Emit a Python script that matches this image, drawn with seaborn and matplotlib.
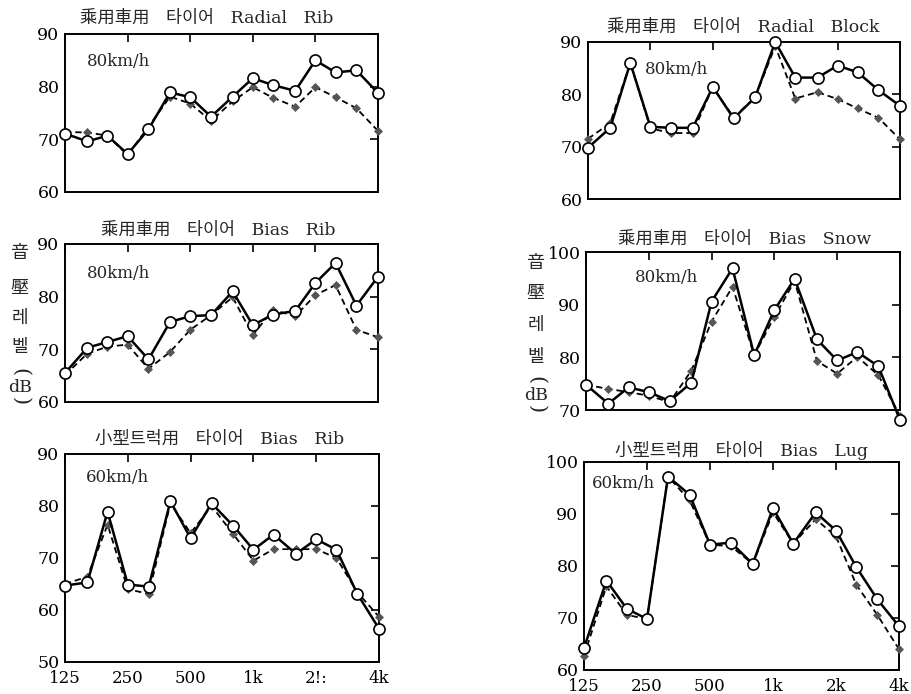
import numpy as np
import pandas as pd
import matplotlib
matplotlib.use("Agg")
import matplotlib.pyplot as plt
import seaborn as sns

# ---------------- data ----------------
freqs = [125, 160, 200, 250, 315, 400, 500, 630, 800, 1000, 1250, 1600, 2000, 2500, 3150, 4000]
octave_ticks = [125, 250, 500, 1000, 2000, 4000]
xtick_labels_left = ["125", "250", "500", "1k", "2!:", "4k"]
xtick_labels_right = ["125", "250", "500", "1k", "2k", "4k"]

titles = ["乘用車用   타이어   Radial   Rib",
          "乘用車用   타이어   Radial   Block",
          "乘用車用   타이어   Bias   Rib",
          "乘用車用   타이어   Bias   Snow",
          "小型트럭用   타이어   Bias   Rib",
          "小型트럭用   타이어   Bias   Lug"]
speeds = ["80km/h", "80km/h", "80km/h", "80km/h", "60km/h", "60km/h"]
ylims = [(60, 90), (60, 90), (60, 90), (70, 100), (50, 90), (60, 100)]

radial_rib_solid = [71.1, 69.6, 70.7, 67.2, 71.9, 78.9, 78.0, 74.3, 78.1, 81.6, 80.3, 79.2, 85.0, 82.7, 83.1, 78.8]
radial_rib_dashed = [71.4, 71.3, 70.7, 67.0, 72.4, 78.1, 76.8, 73.5, 77.2, 79.9, 77.9, 76.2, 79.9, 78.0, 75.9, 71.6]

radial_block_solid = [69.8, 73.6, 86.0, 73.8, 73.6, 73.6, 81.4, 75.4, 79.4, 90.0, 83.2, 83.2, 85.5, 84.2, 80.8, 77.8]
radial_block_dashed = [71.5, 74.5, 86.0, 73.5, 72.6, 72.6, 81.4, 75.6, 79.4, 89.2, 79.2, 80.4, 79.1, 77.3, 75.5, 71.4]

bias_rib_solid = [65.5, 70.3, 71.4, 72.5, 68.1, 75.2, 76.3, 76.5, 81.0, 74.6, 76.6, 77.3, 82.6, 86.4, 78.3, 83.8]
bias_rib_dashed = [65.1, 69.2, 70.5, 70.9, 66.3, 69.5, 73.7, 76.5, 79.9, 72.7, 77.5, 76.3, 80.3, 82.2, 73.7, 72.3]

bias_snow_solid = [74.8, 71.2, 74.3, 73.4, 71.7, 75.2, 90.6, 96.9, 80.4, 89.0, 94.9, 83.4, 79.4, 81.0, 78.3, 68.1]
bias_snow_dashed = [74.8, 74.0, 73.4, 72.7, 71.5, 77.5, 86.8, 93.4, 80.4, 87.7, 94.5, 79.3, 76.9, 80.1, 76.6, 68.9]

truck_rib_solid = [64.7, 65.3, 78.9, 64.9, 64.5, 80.9, 73.8, 80.5, 76.2, 71.6, 74.5, 70.8, 73.6, 71.6, 63.1, 56.4]
truck_rib_dashed = [65.0, 66.4, 76.4, 64.0, 63.1, 80.5, 74.8, 80.0, 74.6, 69.5, 71.7, 71.7, 71.7, 70.0, 63.4, 58.7]

truck_lug_solid = [64.2, 77.2, 71.8, 69.8, 97.2, 93.7, 84.1, 84.5, 80.4, 91.1, 84.3, 90.3, 86.8, 79.8, 73.6, 68.4]
truck_lug_dashed = [62.7, 76.1, 70.6, 69.8, 97.2, 92.6, 84.1, 83.8, 80.4, 90.3, 84.3, 89.0, 85.7, 76.4, 70.6, 64.0]

solid_series = [radial_rib_solid, radial_block_solid, bias_rib_solid,
                bias_snow_solid, truck_rib_solid, truck_lug_solid]
dashed_series = [radial_rib_dashed, radial_block_dashed, bias_rib_dashed,
                 bias_snow_dashed, truck_rib_dashed, truck_lug_dashed]

ylabel_chars = ["音", "壓", "레", "벨"]
ylabel_unit = "dB"

# ---------------- style ----------------
sns.set_style("white")
plt.rcParams["font.family"] = ["DejaVu Serif", "Noto Sans CJK KR"]
plt.rcParams["axes.linewidth"] = 1.4

W, H = 912, 694
fig = plt.figure(figsize=(W / 100, H / 100), dpi=100)

# axes boxes in pixels: left, top, right, bottom
boxes = [(65, 34, 378, 192), (588, 42, 900, 199),
         (65, 244, 378, 402), (586, 252, 900, 410),
         (65, 454, 379, 662), (584, 462, 899, 670)]
title_pos = [(207, 18), (743, 27), (218, 230), (745, 239), (220, 439), (742, 451)]
speed_pos = [(87, 62), (645, 70), (87, 273), (635, 278), (86, 477), (592, 483)]

serif_cjk = ["DejaVu Serif", "Noto Sans CJK KR"]

for i in range(6):
    l, t, r, b = boxes[i]
    ax = fig.add_axes([l / W, 1 - b / H, (r - l) / W, (b - t) / H])
    df = pd.DataFrame({"freq": freqs, "solid": solid_series[i], "dashed": dashed_series[i]})
    sns.lineplot(data=df, x="freq", y="dashed", ax=ax, color="black", linewidth=1.3,
                 linestyle=(0, (3.5, 2.2)), marker="D", markersize=3.8,
                 markerfacecolor="#555555", markeredgecolor="#555555", markeredgewidth=0.5,
                 clip_on=False, zorder=3)
    sns.lineplot(data=df, x="freq", y="solid", ax=ax, color="black", linewidth=1.8,
                 marker="o", markersize=8, markerfacecolor="white",
                 markeredgecolor="black", markeredgewidth=1.2, clip_on=False, zorder=4)
    ax.set_xscale("log")
    ax.set_xlim(125, 4000)
    ax.set_ylim(*ylims[i])
    lo, hi = ylims[i]
    ax.set_yticks(list(range(lo, hi + 1, 10)))
    ax.set_xticks(octave_ticks)
    ax.minorticks_off()
    if i >= 4:
        ax.set_xticklabels(xtick_labels_left if i == 4 else xtick_labels_right)
    else:
        ax.set_xticklabels([])
    ax.set_xlabel("")
    ax.set_ylabel("")
    ax.tick_params(axis="both", direction="in", length=6, width=1.2, colors="black",
                   top=True, right=True, labelsize=12.5, pad=4)
    ax.tick_params(axis="x", labelsize=12, pad=6)
    for s in ax.spines.values():
        s.set_visible(True)
        s.set_color("black")
        s.set_linewidth(1.4)
    fig.text(title_pos[i][0] / W, 1 - title_pos[i][1] / H, titles[i], ha="center",
             va="center", fontsize=12.5, family=serif_cjk)
    fig.text(speed_pos[i][0] / W, 1 - speed_pos[i][1] / H, speeds[i], ha="left",
             va="center", fontsize=12, family=serif_cjk)

# vertical y-axis labels: characters stacked, unit in vertical parentheses
ylab_cols = [(20, [253, 288, 318, 347], 387, 372, 401),
             (536, [263, 293, 325, 357], 395, 380, 409)]
for x, ys, y_db, y_open, y_close in ylab_cols:
    for ch, y in zip(ylabel_chars, ys):
        fig.text(x / W, 1 - y / H, ch, ha="center", va="center", fontsize=13,
                 family=["Noto Sans CJK KR", "DejaVu Serif"])
    fig.text(x / W, 1 - y_db / H, ylabel_unit, ha="center", va="center", fontsize=12.5,
             family=serif_cjk)
    fig.text(x / W, 1 - y_open / H, "(", ha="center", va="center", fontsize=15,
             rotation=-90, family=serif_cjk)
    fig.text(x / W, 1 - y_close / H, ")", ha="center", va="center", fontsize=15,
             rotation=-90, family=serif_cjk)

fig.savefig("out.png", dpi=100, facecolor="white")
